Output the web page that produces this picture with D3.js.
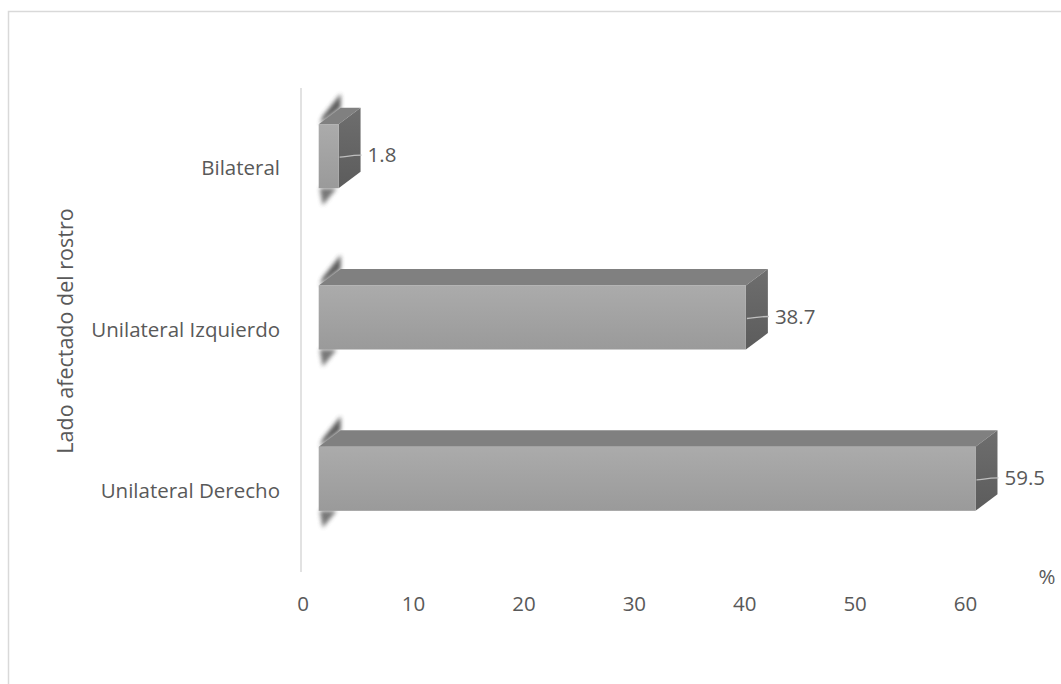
<!DOCTYPE html>
<html><head><meta charset="utf-8">
<script src="https://cdn.jsdelivr.net/npm/d3@7"></script>
<style>html,body{margin:0;padding:0;background:#fff;}svg{display:block;}</style>
</head><body>
<script>
const categories = ["Bilateral", "Unilateral Izquierdo", "Unilateral Derecho"];
const values = [1.8, 38.7, 59.5];
const valueLabels = ["1.8", "38.7", "59.5"];
const xTicks = [0, 10, 20, 30, 40, 50, 60];
const yTitle = "Lado afectado del rostro";
const xUnit = "%";

const W = 1061, H = 684;
const svg = d3.select("body").append("svg").attr("width", W).attr("height", H);
const font = "'Open Sans', sans-serif";
const txt = "#595959";
const fs = "20.5px";

const defs = svg.append("defs");
const fg = defs.append("linearGradient").attr("id","front").attr("x1",0).attr("y1",0).attr("x2",0).attr("y2",1);
fg.append("stop").attr("offset","0%").attr("stop-color","#ababab");
fg.append("stop").attr("offset","100%").attr("stop-color","#9a9a9a");
const sg = defs.append("linearGradient").attr("id","side").attr("x1",0).attr("y1",0).attr("x2",0).attr("y2",1);
sg.append("stop").attr("offset","0%").attr("stop-color","#6e6e6e");
sg.append("stop").attr("offset","100%").attr("stop-color","#5c5c5c");
defs.append("filter").attr("id","blur").attr("x","-50%").attr("y","-50%").attr("width","200%").attr("height","200%")
  .append("feGaussianBlur").attr("stdDeviation",2.2);

// chart border (left and top visible)
svg.append("rect").attr("x",8.5).attr("y",11.5).attr("width",1100).attr("height",800)
  .attr("fill","none").attr("stroke","#d9d9d9").attr("stroke-width",1.5);

const x = d3.scaleLinear().domain([0,60]).range([302.7, 965]);
const y = d3.scaleBand().domain(categories).range([88, 572]).padding(0);

// axis line
svg.append("line").attr("x1",301).attr("x2",301).attr("y1",88).attr("y2",572)
  .attr("stroke","#d9d9d9").attr("stroke-width",1.5);

// x tick labels via axis
const xAxis = svg.append("g").attr("transform","translate(0,604)")
  .call(d3.axisBottom(x).tickValues(xTicks).tickSize(0).tickPadding(0));
xAxis.select(".domain").remove();
xAxis.attr("font-size", null).attr("font-family", null);
xAxis.selectAll("text").attr("fill",txt).style("font-family",font).style("font-size",fs).attr("dy","0.35em");

// y category labels via axis
const yAxis = svg.append("g").attr("transform","translate(280,0)")
  .call(d3.axisLeft(y).tickSize(0).tickPadding(0));
yAxis.select(".domain").remove();
yAxis.attr("font-size", null).attr("font-family", null);
yAxis.selectAll("text").attr("fill",txt).style("font-family",font).style("font-size",fs);

// y title
svg.append("text").attr("transform","translate(65,331) rotate(-90)").attr("text-anchor","middle")
  .attr("dy","0.35em").attr("fill",txt).style("font-family",font).style("font-size","21.5px").text(yTitle);

svg.append("text").attr("x",1047).attr("y",577).attr("text-anchor","middle").attr("dy","0.35em")
  .attr("fill",txt).style("font-family",font).style("font-size",fs).text(xUnit);

const off = 16, dx = 22, dy = -16.5;
const bars = svg.append("g");
categories.forEach((c, i) => {
  const v = values[i];
  const cy = y(c) + y.bandwidth()/2;
  const x0 = x(0) + off, x1 = x(v) + off;
  const t = cy - 44.5, b = cy + 19.5;
  const g = bars.append("g");
  // smudges at left end (perspective artifacts)
  g.append("path").attr("d", `M${x0+1},${t} L${x0+dx},${t+dy} L${x0+dx},${t+dy-14} L${x0+4},${t-8} Z`)
    .attr("fill","#4a4a4a").attr("filter","url(#blur)").attr("opacity",0.9);
  g.append("path").attr("d", `M${x0+1},${b} L${x0+18},${b} L${x0+4},${b+17} Z`)
    .attr("fill","#555").attr("filter","url(#blur)").attr("opacity",0.8);
  // top face
  g.append("path").attr("d", `M${x0},${t} L${x0+dx},${t+dy} L${x1+dx},${t+dy} L${x1},${t} Z`).attr("fill","#808080");
  // side face
  g.append("path").attr("d", `M${x1},${t} L${x1+dx},${t+dy} L${x1+dx},${b+dy} L${x1},${b} Z`).attr("fill","url(#side)");
  // front face
  g.append("rect").attr("x",x0).attr("y",t).attr("width",x1-x0).attr("height",b-t).attr("fill","url(#front)");
  // leader line
  const ly = (t+b)/2 + 1;
  g.append("path").attr("d", `M${x1+1},${ly} C${x1+8},${ly} ${x1+10},${ly-2} ${x1+dx+1},${ly-2}`)
    .attr("fill","none").attr("stroke","#bfbfbf").attr("stroke-width",1.3);
  g.append("text").attr("x", x1+dx+7).attr("y", ly-2).attr("dy","0.35em")
    .attr("fill",txt).style("font-family",font).style("font-size",fs).text(valueLabels[i]);
});
</script>
</body></html>
